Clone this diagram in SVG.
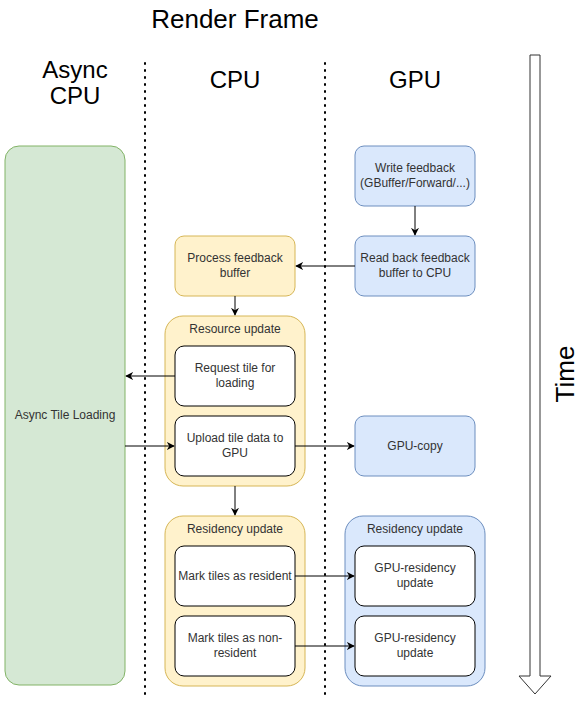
<svg xmlns="http://www.w3.org/2000/svg" width="588" height="704" viewBox="0 0 588 704">
<defs>
<marker id="arr" viewBox="0 0 10 10" refX="9" refY="5" markerWidth="8" markerHeight="8" markerUnits="userSpaceOnUse" orient="auto"><path d="M0,0 L10,5 L0,10 L3,5 Z" fill="#000"/></marker>
<style>
text{font-family:"Liberation Sans",Arial,sans-serif;fill:#333;text-anchor:middle}
.big{font-size:24px;fill:#000}
.t{font-size:12px}
.yel{fill:#fff2cc;stroke:#d6b656}
.blu{fill:#dae8fc;stroke:#6c8ebf}
.grn{fill:#d5e8d4;stroke:#82b366}
.wht{fill:#fff;stroke:#000}
.dot{stroke:#000;stroke-width:2;stroke-dasharray:1 6;stroke-linecap:round}
.c{stroke:#000;fill:none;marker-end:url(#arr)}
</style>
</defs>
<text class="big" x="235" y="28" style="font-size:26px">Render Frame</text>
<text class="big" x="75" y="78">Async</text>
<text class="big" x="75" y="104">CPU</text>
<text class="big" x="235" y="88">CPU</text>
<text class="big" x="415" y="88">GPU</text>
<line class="dot" x1="145" y1="63" x2="145" y2="695"/>
<line class="dot" x1="325" y1="63" x2="325" y2="695"/>
<g id="time">
<polygon points="530,55 540,55 540,676 551,676 535,694 519,676 530,676" fill="#fff" stroke="#333"/>
<text class="big" x="0" y="0" transform="translate(574,374) rotate(-90)" style="font-size:26px">Time</text>
</g>
<g id="async"><rect class="grn" x="5" y="146" width="120" height="539" rx="14"/><text class="t" x="65" y="419">Async Tile Loading</text></g>
<g id="write"><rect class="blu" x="355" y="146" width="120" height="60" rx="9"/><text class="t" x="415" y="172">Write feedback</text><text class="t" x="415" y="187">(GBuffer/Forward/...)</text></g>
<g id="readback"><rect class="blu" x="355" y="236" width="120" height="60" rx="9"/><text class="t" x="415" y="262">Read back feedback</text><text class="t" x="415" y="277">buffer to CPU</text></g>
<g id="process"><rect class="yel" x="175" y="236" width="120" height="60" rx="9"/><text class="t" x="235" y="262">Process feedback</text><text class="t" x="235" y="277">buffer</text></g>
<g id="resource"><rect class="yel" x="165" y="316" width="140" height="170" rx="18"/><text class="t" x="235" y="333">Resource update</text></g>
<g id="request"><rect class="wht" x="175" y="346" width="120" height="60" rx="9"/><text class="t" x="235" y="372">Request tile for</text><text class="t" x="235" y="387">loading</text></g>
<g id="upload"><rect class="wht" x="175" y="416" width="120" height="60" rx="9"/><text class="t" x="235" y="442">Upload tile data to</text><text class="t" x="235" y="457">GPU</text></g>
<g id="gpucopy"><rect class="blu" x="355" y="416" width="120" height="60" rx="9"/><text class="t" x="415" y="450">GPU-copy</text></g>
<g id="cpures"><rect class="yel" x="165" y="516" width="140" height="170" rx="18"/><text class="t" x="235" y="533">Residency update</text></g>
<g id="markres"><rect class="wht" x="175" y="546" width="120" height="60" rx="9"/><text class="t" x="235" y="580">Mark tiles as resident</text></g>
<g id="marknon"><rect class="wht" x="175" y="616" width="120" height="60" rx="9"/><text class="t" x="235" y="642">Mark tiles as non-</text><text class="t" x="235" y="657">resident</text></g>
<g id="gpures"><rect class="blu" x="345" y="516" width="140" height="170" rx="18"/><text class="t" x="415" y="533">Residency update</text></g>
<g id="gpures1"><rect class="wht" x="355" y="546" width="120" height="60" rx="9"/><text class="t" x="415" y="572">GPU-residency</text><text class="t" x="415" y="587">update</text></g>
<g id="gpures2"><rect class="wht" x="355" y="616" width="120" height="60" rx="9"/><text class="t" x="415" y="642">GPU-residency</text><text class="t" x="415" y="657">update</text></g>
<g id="connectors">
<line class="c" x1="175" y1="376" x2="126" y2="376"/>
<line class="c" x1="415" y1="206" x2="415" y2="235"/>
<line class="c" x1="355" y1="266" x2="296" y2="266"/>
<line class="c" x1="235" y1="296" x2="235" y2="315"/>
<line class="c" x1="125" y1="446" x2="174" y2="446"/>
<line class="c" x1="295" y1="446" x2="354" y2="446"/>
<line class="c" x1="235" y1="486" x2="235" y2="515"/>
<line class="c" x1="295" y1="576" x2="354" y2="576"/>
<line class="c" x1="295" y1="646" x2="354" y2="646"/>
</g>
</svg>
